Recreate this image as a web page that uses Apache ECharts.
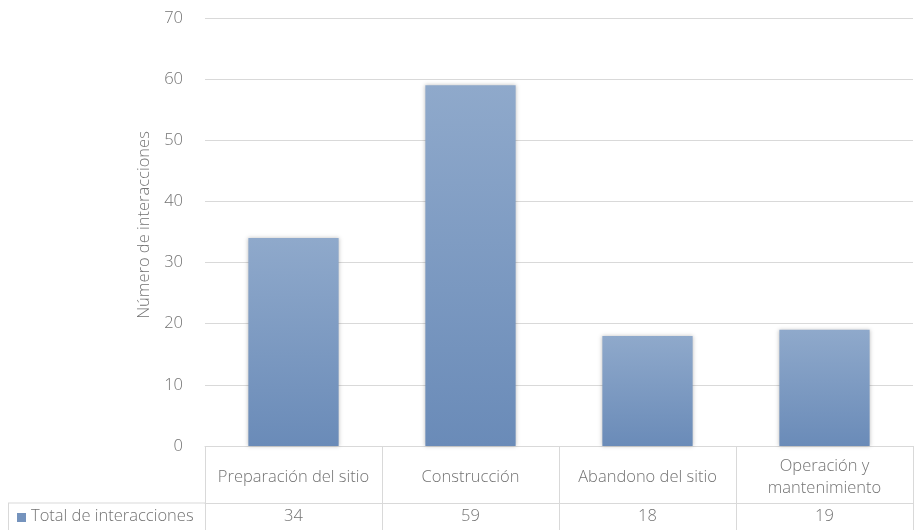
<!DOCTYPE html>
<html>
<head>
<meta charset="utf-8">
<script src="https://cdn.jsdelivr.net/npm/echarts@6/dist/echarts.min.js"></script>
<style>
  html, body { margin: 0; padding: 0; background: #fff; }
  #chart { width: 917px; height: 531px; }
</style>
</head>
<body>
<div id="chart"></div>
<script>
// Phases of the project and number of interactions per phase
const categories = ['Preparación del sitio', 'Construcción', 'Abandono del sitio', 'Operación y mantenimiento'];
const categoryLabels = ['Preparación del sitio', 'Construcción', 'Abandono del sitio', 'Operación y\nmantenimiento'];
const values = [34, 59, 18, 19];
const seriesName = 'Total de interacciones';
const yTicks = [0, 10, 20, 30, 40, 50, 60, 70];

const FONT = '"Open Sans", "Noto Sans", sans-serif';
const FS = 16.5;
const TEXT = '#737373';
const LINE = '#d9d9d9';

const GRID = { left: 205, right: 4, top: 18, bottom: 85 };
const HEADER_H = 57;
const ROW_H = 27;

const chart = echarts.init(document.getElementById('chart'), null, { renderer: 'canvas' });

const tableTop = 531 - GRID.bottom + HEADER_H;

chart.setOption({
  animation: false,
  grid: GRID,
  xAxis: [
    {
      type: 'category',
      data: categories,
      position: 'bottom',
      axisLine: { show: true, lineStyle: { color: LINE, width: 1 } },
      axisTick: { show: true, length: HEADER_H, lineStyle: { color: LINE } },
      axisLabel: {
        color: TEXT, fontFamily: FONT, fontSize: FS, fontWeight: 300,
        lineHeight: 22, margin: HEADER_H / 2 + 2.5, verticalAlign: 'middle', interval: 0,
        formatter: (v, i) => categoryLabels[i]
      }
    },
    {
      type: 'category',
      data: categories,
      position: 'bottom',
      offset: HEADER_H,
      axisLine: { show: true, lineStyle: { color: LINE, width: 1 } },
      axisTick: { show: true, length: ROW_H, lineStyle: { color: LINE } },
      axisLabel: {
        color: TEXT, fontFamily: FONT, fontSize: FS, fontWeight: 300,
        margin: ROW_H / 2, verticalAlign: 'middle', interval: 0,
        formatter: (v, i) => String(values[i])
      }
    }
  ],
  yAxis: {
    type: 'value',
    min: 0, max: 70, interval: 10,
    name: 'Número de interacciones',
    nameLocation: 'middle',
    nameRotate: 90,
    nameGap: 46,
    nameTextStyle: { color: TEXT, fontFamily: FONT, fontSize: FS, fontWeight: 300, padding: [0, 0, 0, 14] },
    axisLine: { show: false },
    axisTick: { show: false },
    axisLabel: {
      color: TEXT, fontFamily: FONT, fontSize: FS, fontWeight: 300, margin: 22,
      formatter: v => yTicks.includes(v) ? String(v) : ''
    },
    splitLine: { lineStyle: { color: LINE, width: 1 } }
  },
  series: [{
    name: seriesName,
    type: 'bar',
    data: values,
    xAxisIndex: 0,
    barWidth: '51%',
    itemStyle: {
      color: new echarts.graphic.LinearGradient(0, 0, 0, 1, [
        { offset: 0, color: '#8fa9cb' },
        { offset: 1, color: '#6a8bb8' }
      ]),
      shadowColor: 'rgba(0,0,0,0.25)',
      shadowBlur: 4
    }
  }],
  graphic: [
    // row header cell of the data table
    { type: 'line', shape: { x1: 8, y1: tableTop, x2: GRID.left, y2: tableTop }, style: { stroke: LINE, lineWidth: 1 } },
    { type: 'line', shape: { x1: 8.5, y1: tableTop, x2: 8.5, y2: tableTop + ROW_H }, style: { stroke: LINE, lineWidth: 1 } },
    { type: 'rect', shape: { x: 17, y: tableTop + 10, width: 9, height: 9 }, style: { fill: '#7593bd' } },
    {
      type: 'text', x: 31, y: tableTop + ROW_H / 2,
      style: { text: seriesName, fill: TEXT, font: '300 ' + FS + 'px ' + FONT, textVerticalAlign: 'middle' }
    }
  ]
});
</script>
</body>
</html>
